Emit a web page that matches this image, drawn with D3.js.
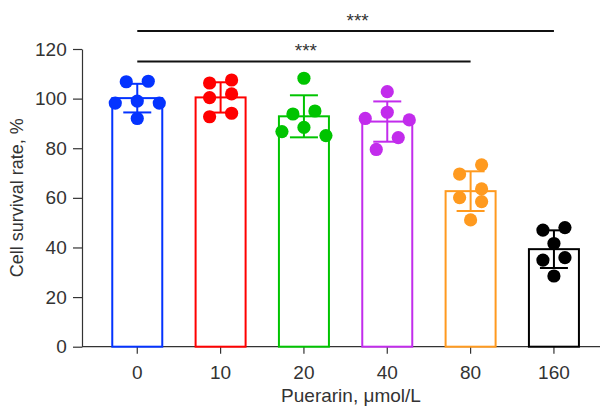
<!DOCTYPE html>
<html>
<head>
<meta charset="utf-8">
<script src="https://cdn.jsdelivr.net/npm/d3@7"></script>
<style>
  body { margin: 0; background: #fff; }
  svg { display: block; font-family: "Liberation Sans", Arial, sans-serif; }
</style>
</head>
<body>
<div id="chart"></div>
<script>
// Puerarin doses (x categories) and the six replicate values per dose
const doses = ["0", "10", "20", "40", "80", "160"];
const dose0 = [107, 106.8, 99, 98.2, 98.2, 92];
const dose10 = [106.3, 107.5, 100.4, 101.9, 92.7, 94.1];
const dose20 = [108.2, 95, 93.8, 88.4, 85.1, 86.7];
const dose40 = [102.8, 94.5, 92, 91.4, 84.3, 79.5];
const dose80 = [73.3, 69.6, 63.6, 60.1, 58.5, 51.1];
const dose160 = [47, 48, 41.6, 35.9, 34.9, 28.5];
const colors = ["#0433ff", "#ff0000", "#00c400", "#c22cec", "#ff9a1f", "#000000"];
const yTicks = [0, 20, 40, 60, 80, 100, 120];
const comparisons = [
    {from: "0", to: "160", label: "***"},
    {from: "0", to: "80", label: "***"}
];

function chart() {
    const width = 607;
    const height = 407;
    const margin = {top: 49, right: 7, bottom: 60.3, left: 82};
    const textColor = "#333";

    const groups = doses.map((d, i) => {
        const vals = [dose0, dose10, dose20, dose40, dose80, dose160][i];
        return {dose: d, values: vals, mean: d3.mean(vals), sd: d3.deviation(vals), color: colors[i]};
    });

    const svg = d3.create("svg")
        .attr("width", width)
        .attr("height", height)
        .attr("viewBox", [0, 0, width, height]);

    const x = d3.scaleBand()
        .domain(doses)
        .range([95.6, 595.6])
        .paddingInner(0.4)
        .paddingOuter(0.2);

    const y = d3.scaleLinear()
        .domain([0, 120])
        .range([height - margin.bottom, margin.top]);

    // Axes
    const yAxis = svg.append("g")
        .attr("transform", `translate(${margin.left},0)`)
        .call(d3.axisLeft(y).tickValues(yTicks).tickSize(9).tickSizeOuter(0));
    const xAxis = svg.append("g")
        .attr("transform", `translate(0,${y(0)})`)
        .call(d3.axisBottom(x).tickSize(7).tickSizeOuter(0));
    xAxis.select(".domain").attr("d", `M${margin.left},0H600`);

    [yAxis, xAxis].forEach(g => {
        g.selectAll(".domain, line").attr("stroke", textColor).attr("stroke-width", 1.2);
        g.selectAll("text").attr("fill", textColor).attr("font-size", 19)
            .attr("font-family", "Liberation Sans, Arial, sans-serif");
    });
    yAxis.selectAll("text").attr("x", -15.3);
    xAxis.selectAll("text").attr("y", 18.5);

    // Axis titles
    svg.append("text")
        .attr("x", (margin.left + 600) / 2 + 10)
        .attr("y", 401.5)
        .attr("text-anchor", "middle")
        .attr("fill", textColor)
        .attr("font-size", 19)
        .text("Puerarin, μmol/L");
    svg.append("text")
        .attr("transform", `translate(23,${(y(0) + y(120)) / 2}) rotate(-90)`)
        .attr("text-anchor", "middle")
        .attr("fill", textColor)
        .attr("font-size", 18)
        .text("Cell survival rate, %");

    // Bars
    svg.append("g")
        .selectAll("rect")
        .data(groups)
        .join("rect")
        .attr("x", d => x(d.dose))
        .attr("y", d => y(d.mean))
        .attr("width", x.bandwidth())
        .attr("height", d => y(0) - y(d.mean))
        .attr("fill", "white")
        .attr("stroke", d => d.color)
        .attr("stroke-width", 2);

    // Error bars (mean +/- SD)
    const capW = 28;
    const err = svg.append("g")
        .selectAll("g")
        .data(groups)
        .join("g")
        .attr("stroke", d => d.color)
        .attr("stroke-width", 2);
    err.append("line")
        .attr("x1", d => x(d.dose) + x.bandwidth() / 2)
        .attr("x2", d => x(d.dose) + x.bandwidth() / 2)
        .attr("y1", d => y(d.mean - d.sd))
        .attr("y2", d => y(d.mean + d.sd));
    err.selectAll(".cap")
        .data(d => [d.mean - d.sd, d.mean + d.sd].map(v => ({v, d})))
        .join("line")
        .attr("class", "cap")
        .attr("x1", e => x(e.d.dose) + x.bandwidth() / 2 - capW / 2)
        .attr("x2", e => x(e.d.dose) + x.bandwidth() / 2 + capW / 2)
        .attr("y1", e => y(e.v))
        .attr("y2", e => y(e.v));

    // Simple swarm layout: spread points that would overlap vertically
    const radius = 6.6;
    function swarm(g) {
        const minDy = 12.5, gap = 22, step = 11;
        const pts = g.values.map(v => ({v, py: y(v), dx: 0, color: g.color}));
        const order = pts.slice().sort((a, b) => b.v - a.v);
        const placed = [];
        for (const p of order) {
            for (let k = 0; ; k++) {
                const off = k === 0 ? 0 : (k % 2 === 1 ? -1 : 1) * Math.ceil(k / 2) * step;
                const hit = placed.some(q => Math.abs(q.py - p.py) < minDy && Math.abs(q.dx - off) < gap);
                if (!hit) { p.dx = off; break; }
            }
            placed.push(p);
        }
        // center each connected cluster
        const parent = pts.map((_, i) => i);
        const find = i => parent[i] === i ? i : (parent[i] = find(parent[i]));
        pts.forEach((p, i) => pts.forEach((q, j) => {
            if (i < j && Math.abs(p.py - q.py) < minDy) parent[find(i)] = find(j);
        }));
        const clusters = d3.group(pts.map((p, i) => ({p, c: find(i)})), d => d.c);
        clusters.forEach(list => {
            const ext = d3.extent(list, d => d.p.dx);
            const shift = -(ext[0] + ext[1]) / 2;
            list.forEach(d => d.p.dx += shift);
        });
        const cx = x(g.dose) + x.bandwidth() / 2;
        pts.forEach(p => p.cx = cx + p.dx);
        return pts;
    }

    svg.append("g")
        .selectAll("circle")
        .data(groups.flatMap(swarm))
        .join("circle")
        .attr("cx", d => d.cx)
        .attr("cy", d => d.py)
        .attr("r", radius)
        .attr("fill", d => d.color);

    // Significance brackets
    const levels = [127.3, 115];
    const labelShift = [12, 2];
    comparisons.forEach((c, i) => {
        const x1 = x(c.from) + x.bandwidth() / 2;
        const x2 = x(c.to) + x.bandwidth() / 2;
        svg.append("line")
            .attr("x1", x1).attr("x2", x2)
            .attr("y1", y(levels[i])).attr("y2", y(levels[i]))
            .attr("stroke", "#111")
            .attr("stroke-width", 2);
        svg.append("text")
            .attr("x", (x1 + x2) / 2 + labelShift[i])
            .attr("y", y(levels[i]) - 4)
            .attr("text-anchor", "middle")
            .attr("fill", textColor)
            .attr("font-size", 19)
            .text(c.label);
    });

    return svg.node();
}

document.getElementById("chart").appendChild(chart());
</script>
</body>
</html>
